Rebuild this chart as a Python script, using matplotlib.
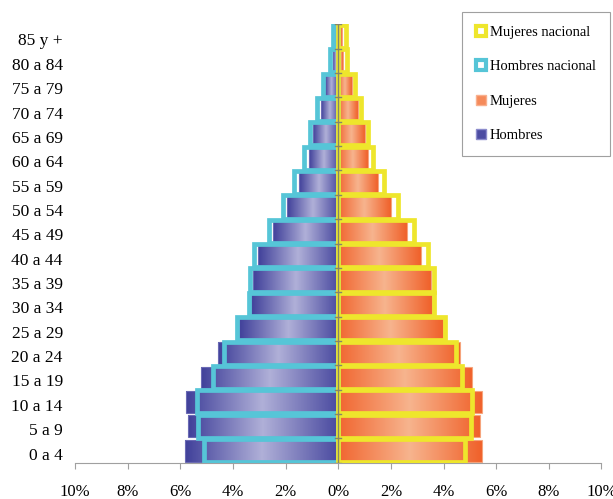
import numpy as np
import matplotlib.pyplot as plt
from matplotlib.colors import LinearSegmentedColormap
from matplotlib.patches import Rectangle
from matplotlib.ticker import FuncFormatter
from matplotlib.transforms import ScaledTranslation

plt.rcParams['font.family'] = ['Liberation Serif', 'DejaVu Serif']

# grupos de edad, de abajo hacia arriba
grupos = ['0 a 4', '5 a 9', '10 a 14', '15 a 19', '20 a 24', '25 a 29',
          '30 a 34', '35 a 39', '40 a 44', '45 a 49', '50 a 54', '55 a 59',
          '60 a 64', '65 a 69', '70 a 74', '75 a 79', '80 a 84', '85 y +']

# porcentaje de la poblacion total en cada grupo
hombres = [5.83, 5.70, 5.79, 5.23, 4.59, 3.76, 3.32, 3.25, 3.04, 2.47,
           1.94, 1.51, 1.13, 0.97, 0.67, 0.49, 0.21, 0.15]
mujeres = [5.45, 5.39, 5.45, 5.07, 4.63, 3.97, 3.55, 3.51, 3.13, 2.60,
           2.00, 1.50, 1.12, 1.02, 0.74, 0.51, 0.19, 0.15]
hombres_nac = [5.10, 5.32, 5.38, 4.76, 4.34, 3.86, 3.41, 3.35, 3.20, 2.65,
               2.12, 1.68, 1.30, 1.08, 0.82, 0.60, 0.31, 0.22]
mujeres_nac = [4.81, 5.06, 5.10, 4.72, 4.47, 4.05, 3.65, 3.65, 3.42, 2.89,
               2.28, 1.72, 1.33, 1.14, 0.86, 0.64, 0.32, 0.28]

ticks_x = [-10, -8, -6, -4, -2, 0, 2, 4, 6, 8, 10]

amarillo = '#EEE62C'
celeste = '#56C5D7'
cmap_h = LinearSegmentedColormap.from_list('h', ['#40409A', '#B0B0D8', '#4A4AA0'])
cmap_m = LinearSegmentedColormap.from_list('m', ['#F16630', '#F7B48E', '#F0612A'])


def barra_degradada(ax, x0, ancho, y, alto, cmap, borde):
    rect = Rectangle((x0, y - alto / 2), ancho, alto, facecolor='none',
                     edgecolor=borde, lw=0.8, zorder=2)
    ax.add_patch(rect)
    grad = np.linspace(0, 1, 256).reshape(1, -1)
    im = ax.imshow(grad, cmap=cmap, extent=(x0, x0 + ancho, y - alto / 2, y + alto / 2),
                   aspect='auto', zorder=1, interpolation='bilinear')
    im.set_clip_path(rect)


fig = plt.figure(figsize=(6.13, 4.99), dpi=100)
ax = fig.add_axes([0.1228, 0.0727, 0.8582, 0.8786])

y = np.arange(len(grupos))
for i in y:
    barra_degradada(ax, -hombres[i], hombres[i], i, 0.9, cmap_h, '#6A6AB4')
    barra_degradada(ax, 0, mujeres[i], i, 0.9, cmap_m, '#F6A47C')

ax.barh(y, -np.array(hombres_nac), height=0.95, facecolor='none',
        edgecolor=celeste, lw=3.4, joinstyle='miter', zorder=3)
ax.barh(y, mujeres_nac, height=0.95, facecolor='none',
        edgecolor=amarillo, lw=3.4, joinstyle='miter', zorder=3)

# eje de categorias en el cero
ax.axvline(0, color='#86866a', lw=1, zorder=4)
for b in np.arange(-0.5, len(grupos)):
    ax.plot([-0.12, 0.12], [b, b], color='#86866a', lw=1, zorder=4)

ax.set_xlim(-10, 10)
ax.set_ylim(-0.5, len(grupos) - 0.5)
ax.set_xticks(ticks_x)
ax.xaxis.set_major_formatter(FuncFormatter(lambda v, p: '{:d}%'.format(int(abs(v)))))
ax.set_yticks(y)
ax.set_yticklabels(grupos)
ax.tick_params(axis='y', length=0, pad=9, labelsize=12.5)
ax.tick_params(axis='x', length=4, color='#a0a0a0', pad=11, labelsize=12)

# etiquetas de edad un poco mas abajo del centro de cada barra
bajar = ScaledTranslation(0, -3 / 100, fig.dpi_scale_trans)
for lbl in ax.get_yticklabels():
    lbl.set_transform(lbl.get_transform() + bajar)

for s in ['left', 'top', 'right']:
    ax.spines[s].set_visible(False)
ax.spines['bottom'].set_color('#a0a0a0')

h1 = Rectangle((0, 0), 1, 1, facecolor='white', edgecolor=amarillo, lw=3)
h2 = Rectangle((0, 0), 1, 1, facecolor='white', edgecolor=celeste, lw=3)
h3 = Rectangle((0, 0), 1, 1, facecolor='#F58A5A', edgecolor='#F9B08E', lw=1)
h4 = Rectangle((0, 0), 1, 1, facecolor='#4C4CA2', edgecolor='#8C8CCC', lw=1)
leg = fig.legend([h1, h2, h3, h4],
                 ['Mujeres nacional', 'Hombres nacional', 'Mujeres', 'Hombres'],
                 loc='upper right', bbox_to_anchor=(0.995, 0.976),
                 borderaxespad=0, fontsize=10.5, handlelength=0.7, handleheight=0.7,
                 handletextpad=0.25, labelspacing=1.45, borderpad=0.95,
                 fancybox=False, edgecolor='#a0a0a0', framealpha=1)
leg.get_frame().set_linewidth(0.8)

fig.savefig('out.png', dpi=100)
